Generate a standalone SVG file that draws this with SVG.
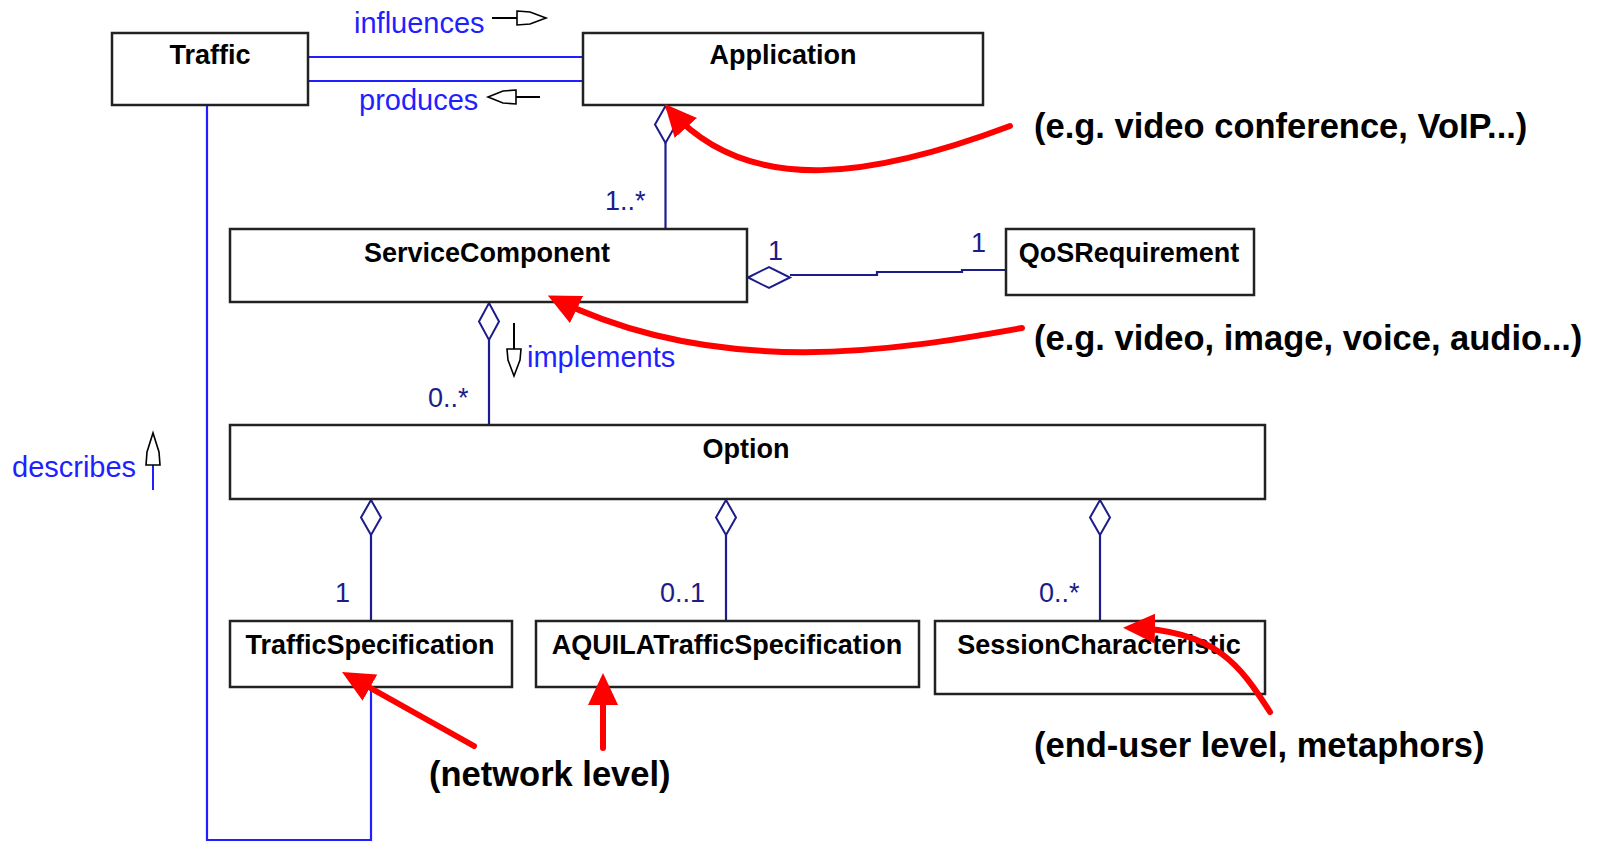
<svg xmlns="http://www.w3.org/2000/svg" width="1603" height="842" viewBox="0 0 1603 842">
<style>
.box{fill:#fff;stroke:#222;stroke-width:2.5}
.lbl{font-family:"Liberation Sans",Arial,sans-serif;font-weight:bold;font-size:27px;fill:#000;text-anchor:middle}
.blue{stroke:#1f1fff;stroke-width:2.2;fill:none}
.navy{stroke:#1c1c8a;stroke-width:2.2;fill:none}
.dia{stroke:#1c1c8a;stroke-width:2;fill:#fff}
.rl{font-family:"Liberation Sans",Arial,sans-serif;font-size:29px;fill:#1f1fff}
.mult{font-family:"Liberation Sans",Arial,sans-serif;font-size:27px;fill:#1c1c8a}
.harrow{fill:#fff;stroke:#000;stroke-width:1.6}
.ann{font-family:"Liberation Sans",Arial,sans-serif;font-weight:bold;font-size:34.5px;fill:#000}
.red{stroke:#f00;stroke-width:6;fill:none;stroke-linecap:round}
</style>
<defs>
<marker id="rh" markerUnits="userSpaceOnUse" viewBox="0 0 32 30" markerWidth="32" markerHeight="30" refX="24" refY="15" orient="auto">
<path d="M0,0 L32,15 L0,30 Z" fill="#f00"/>
</marker>
</defs>
<rect width="1603" height="842" fill="#fff"/>
<g id="connectors">
<line class="blue" x1="308" y1="57" x2="583" y2="57"/>
<line class="blue" x1="308" y1="81" x2="583" y2="81"/>
<polyline class="blue" points="207,105 207,840 371,840 371,687"/>
<line class="navy" x1="665.5" y1="143" x2="665.5" y2="229"/>
<polygon class="dia" points="665.5,106 676,124.5 665.5,143 655,124.5"/>
<polyline class="navy" points="790,275 877,275 877,272 962,272 962,270 1006,270"/>
<polygon class="dia" points="748,277.5 769,267 790,277.5 769,288"/>
<line class="navy" x1="489" y1="340" x2="489" y2="425"/>
<polygon class="dia" points="489,303 499,321.5 489,340 479,321.5"/>
<line class="navy" x1="371" y1="535" x2="371" y2="621"/>
<polygon class="dia" points="371,500 381,517.5 371,535 361,517.5"/>
<line class="navy" x1="726" y1="535" x2="726" y2="621"/>
<polygon class="dia" points="726,500 736,517.5 726,535 716,517.5"/>
<line class="navy" x1="1100" y1="535" x2="1100" y2="621"/>
<polygon class="dia" points="1100,500 1110,517.5 1100,535 1090,517.5"/>
<text class="rl" x="354" y="33">influences</text>
<line x1="492" y1="18" x2="517" y2="18" stroke="#000" stroke-width="2"/>
<polygon class="harrow" points="517,11 530,12 546,18 530,24 517,25"/>
<text class="rl" x="359" y="110">produces</text>
<line x1="516" y1="97" x2="540" y2="97" stroke="#000" stroke-width="2"/>
<polygon class="harrow" points="516,90 503,91 488,97 503,103 516,104"/>
<text class="rl" x="12" y="477">describes</text>
<line x1="153" y1="465" x2="153" y2="490" stroke="#1f1fff" stroke-width="2"/>
<polygon class="harrow" points="146,465 147,452 153,433 159,452 160,465"/>
<text class="rl" x="527" y="367">implements</text>
<line x1="514" y1="323" x2="514" y2="349" stroke="#000" stroke-width="2"/>
<polygon class="harrow" points="507,349 521,349 520,360 514,376 508,360"/>
<text class="mult" x="605" y="210">1..*</text>
<text class="mult" x="768" y="260">1</text>
<text class="mult" x="971" y="252">1</text>
<text class="mult" x="428" y="407">0..*</text>
<text class="mult" x="335" y="602">1</text>
<text class="mult" x="660" y="602">0..1</text>
<text class="mult" x="1039" y="602">0..*</text>
</g>
<g id="Traffic"><rect class="box" x="112" y="33" width="196" height="72"/><text class="lbl" x="210" y="64">Traffic</text></g>
<g id="Application"><rect class="box" x="583" y="33" width="400" height="72"/><text class="lbl" x="783" y="64">Application</text></g>
<g id="ServiceComponent"><rect class="box" x="230" y="229" width="517" height="73"/><text class="lbl" x="487" y="262">ServiceComponent</text></g>
<g id="QoSRequirement"><rect class="box" x="1006" y="229" width="248" height="66"/><text class="lbl" x="1129" y="262">QoSRequirement</text></g>
<g id="Option"><rect class="box" x="230" y="425" width="1035" height="74"/><text class="lbl" x="746" y="458">Option</text></g>
<g id="TrafficSpecification"><rect class="box" x="230" y="621" width="282" height="66"/><text class="lbl" x="370" y="654">TrafficSpecification</text></g>
<g id="AQUILATrafficSpecification"><rect class="box" x="536" y="621" width="383" height="66"/><text class="lbl" x="727" y="654">AQUILATrafficSpecification</text></g>
<g id="SessionCharacteristic"><rect class="box" x="935" y="621" width="330" height="73"/><text class="lbl" x="1099" y="654">SessionCharacteristic</text></g>
<g id="annotations">
<path class="red" d="M1010,126 C880,175 750,200 670,110" marker-end="url(#rh)"/>
<path class="red" d="M1022,328 C900,350 720,380 555,299" marker-end="url(#rh)"/>
<path class="red" d="M474,746 L349,676" marker-end="url(#rh)"/>
<path class="red" d="M603,748 L603,681" marker-end="url(#rh)"/>
<path class="red" d="M1270,712 C1240,665 1215,630 1131,628" marker-end="url(#rh)"/>
<text class="ann" x="1034" y="138">(e.g. video conference, VoIP...)</text>
<text class="ann" x="1034" y="350">(e.g. video, image, voice, audio...)</text>
<text class="ann" x="429" y="786">(network level)</text>
<text class="ann" x="1034" y="757">(end-user level, metaphors)</text>
</g>
</svg>
